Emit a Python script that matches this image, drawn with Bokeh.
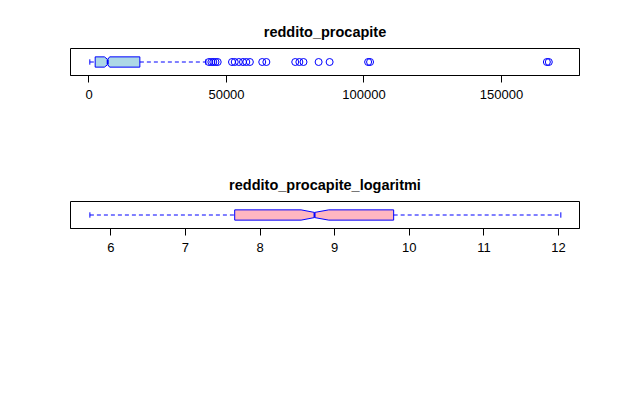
import numpy as np
from bokeh.plotting import figure
from bokeh.layouts import column
from bokeh.models import FixedTicker, NumeralTickFormatter
from bokeh.embed import file_html
from bokeh.resources import INLINE

# top panel: reddito_procapite
top_stats = dict(low=300, q1=2250, notch_lo=5600, med=6800, notch_hi=7500, q3=18500, high=42500)
top_outliers = [43600, 44500, 45200, 46000, 46800, 52000, 53000, 54500, 56000, 57200, 58500,
                63000, 64500, 75000, 76500, 78000, 83500, 87500, 101500, 102200, 166500, 167200]
top_ticks = [0, 50000, 100000, 150000]

# bottom panel: reddito_procapite_logaritmi
bot_stats = dict(low=5.72, q1=7.66, notch_lo=8.55, med=8.73, notch_hi=8.92, q3=9.79, high=12.03)
bot_ticks = [6, 7, 8, 9, 10, 11, 12]

FONT = "Liberation Sans"


def panel(title, s, outliers, ticks, xr, fill):
    p = figure(frame_width=509, frame_height=27, x_range=xr, y_range=(0, 1),
               output_backend="svg", toolbar_location=None, title=title,
               min_border_left=70, min_border_right=33, min_border_top=48, min_border_bottom=78)
    p.title.align = "center"
    p.title.text_font = FONT
    p.title.text_color = "black"
    p.title.text_font_size = "14.5px"
    p.title.text_font_style = "bold"
    p.title.standoff = 18
    p.yaxis.visible = False
    p.grid.visible = False
    p.outline_line_color = "black"
    p.outline_line_alpha = 1
    p.outline_line_width = 1
    ax = p.xaxis[0]
    ax.ticker = FixedTicker(ticks=ticks)
    ax.formatter = NumeralTickFormatter(format="0")
    ax.axis_line_color = "black"
    ax.major_tick_line_color = "black"
    ax.major_tick_out = 7
    ax.major_tick_in = 0
    ax.minor_tick_line_color = None
    ax.major_label_text_font = FONT
    ax.major_label_text_font_size = "13px"
    ax.major_label_text_color = "black"
    ax.major_label_standoff = 7
    # notched box
    h, hn = 0.19, 0.095
    c = 0.5
    xs = [s["q1"], s["notch_lo"], s["med"], s["notch_hi"], s["q3"],
          s["q3"], s["notch_hi"], s["med"], s["notch_lo"], s["q1"]]
    ys = [c + h, c + h, c + hn, c + h, c + h, c - h, c - h, c - hn, c - h, c - h]
    p.patch(xs, ys, fill_color=fill, line_color="blue", line_width=1)
    p.segment(x0=[s["med"]], y0=[c - hn], x1=[s["med"]], y1=[c + hn], line_color="blue", line_width=2)
    # whiskers
    p.segment(x0=[s["low"], s["q3"]], y0=[c, c], x1=[s["q1"], s["high"]], y1=[c, c],
              line_color="blue", line_dash="4 3", line_width=1)
    p.segment(x0=[s["low"], s["high"]], y0=[c - 0.1, c - 0.1], x1=[s["low"], s["high"]],
              y1=[c + 0.1, c + 0.1], line_color="blue", line_width=1)
    if outliers:
        p.scatter(outliers, [c] * len(outliers), size=7, fill_color=None, line_color="blue")
    return p


p1 = panel("reddito_procapite", top_stats, top_outliers, top_ticks, (-6727, 178364), "lightblue")
p2 = panel("reddito_procapite_logaritmi", bot_stats, [], bot_ticks, (5.46, 12.28), "lightpink")
p = column(p1, p2)
open("out.html", "w").write(file_html(p, INLINE))
